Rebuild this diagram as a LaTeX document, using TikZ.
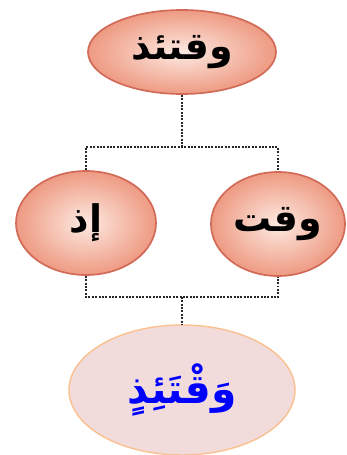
\documentclass[tikz,border=0pt]{standalone}
\usepackage{fontspec}
\usetikzlibrary{shapes.geometric,positioning}
\usepackage{xcolor}
\TeXXeTstate=1
\newfontfamily\arabicfont[Script=Arabic]{DejaVu Sans}
\definecolor{ovalin}{HTML}{FDEAE2}
\definecolor{ovalout}{HTML}{EE9A82}
\definecolor{ovaledge}{HTML}{D26A58}
\definecolor{resfill}{HTML}{F2DCDB}
\definecolor{resedge}{HTML}{FAC090}
\tikzset{
ovalbox/.style={ellipse,draw=ovaledge,line width=1.2pt,shading=radial,
  inner color=ovalin,outer color=ovalout,inner sep=0pt,
  font=\arabicfont\bfseries\fontsize{27}{32}\selectfont},
resultbox/.style={ellipse,draw=resedge,line width=1pt,fill=resfill,inner sep=0pt,
  text=blue,font=\arabicfont\bfseries\fontsize{29}{36}\selectfont},
dotlink/.style={densely dotted,line width=1.4pt,black!85}
}

\begin{document}
\begin{tikzpicture}
\useasboundingbox (0,0) rectangle (8.65,11.375);
\node[ovalbox,minimum width=4.7cm,minimum height=2.1cm] (whole) at (4.55,10.075) {\beginR وقتئذ\endR};
\node[ovalbox,minimum width=3.5cm,minimum height=2.6cm] (idh) at (2.15,5.8) {\beginR إذ\endR};
\node[ovalbox,minimum width=3.35cm,minimum height=2.6cm] (waqt) at (6.95,5.775) {\beginR وقت\endR};
\node[resultbox,minimum width=5.65cm,minimum height=3.25cm] (result) at (4.55,1.625) {\beginR وَقْتَئِذٍ\endR};
\coordinate (bartop) at (4.55,7.7);
\coordinate (barlow) at (4.55,3.95);
\draw[dotlink] (whole.south) -- (bartop);
\draw[dotlink] (idh.north) |- (bartop) -| (waqt.north);
\draw[dotlink] (idh.south) |- (barlow) -| (waqt.south);
\draw[dotlink] (barlow) -- (result.north);
\end{tikzpicture}
\end{document}
